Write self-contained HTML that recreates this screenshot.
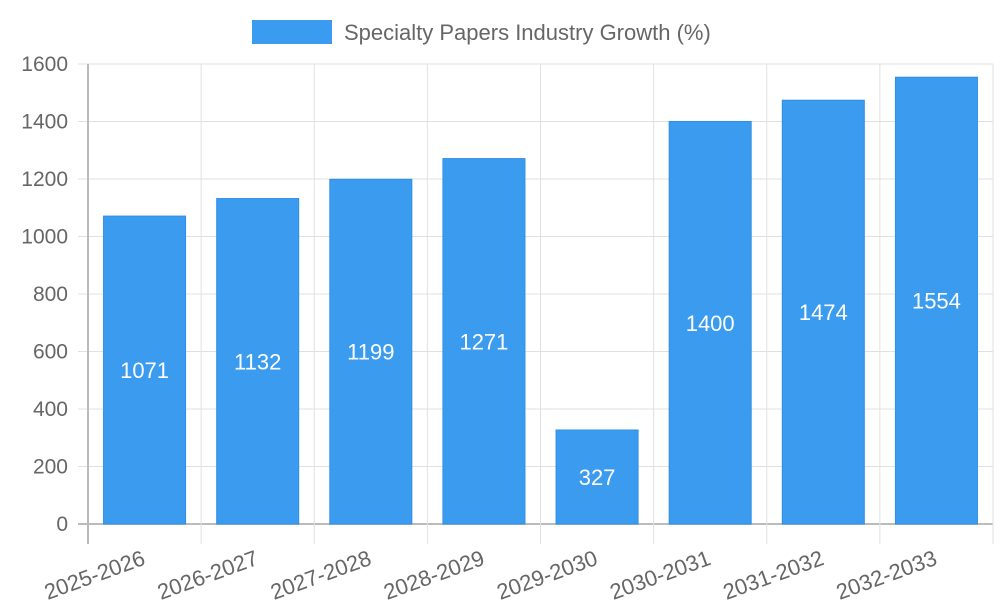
<!DOCTYPE html>
<html><head><meta charset="utf-8"><style>
body{margin:0;background:#fff;font-family:"Liberation Sans",sans-serif}
</style></head><body>
<svg id="chart" width="1000" height="600" xmlns="http://www.w3.org/2000/svg" font-family="Liberation Sans, sans-serif"></svg>
<script>
const categories=["2025-2026","2026-2027","2027-2028","2028-2029","2029-2030","2030-2031","2031-2032","2032-2033"];
const values=[1071,1132,1199,1271,327,1400,1474,1554];
const yTicks=[0,200,400,600,800,1000,1200,1400,1600];
const seriesName="Specialty Papers Industry Growth (%)";
const svg=document.getElementById('chart');
const NS="http://www.w3.org/2000/svg";
const L=88,R=993,T=64,B=524,yMax=1600;
const band=(R-L)/categories.length;
const y=v=>B-(v/yMax)*(B-T);
const xc=i=>L+band*(i+0.5);
function mk(tag,attrs,parent){const e=document.createElementNS(NS,tag);for(const k in attrs)e.setAttribute(k,attrs[k]);(parent||svg).appendChild(e);return e;}
// legend
const lg=mk('g',{});


mk('rect',{x:252,y:20,width:80,height:24,fill:'#3a9bef'},lg);
const lt=mk('text',{x:344,y:40,'font-size':22,fill:'#666'},lg);lt.textContent=seriesName;
// grid
const grid=mk('g',{});


yTicks.forEach(t=>{
  mk('line',{x1:L-10,x2:R,y1:y(t),y2:y(t),stroke:t===0?'#bbb':'#e0e0e0','stroke-width':t===0?2:1},grid);
  const tx=mk('text',{x:L-20,y:y(t)+7,'font-size':21,fill:'#666','text-anchor':'end'},grid);
  
  
  tx.textContent=t;
});
for(let i=0;i<=categories.length;i++){
  const gx=L+band*i;
  mk('line',{x1:gx,x2:gx,y1:T,y2:B+20,stroke:i===0?'#bbb':'#e0e0e0','stroke-width':i===0?2:1},grid);
}
// bars
categories.forEach((c,i)=>{
  const bw=band*0.725, v=values[i];
  const r=mk('rect',{x:xc(i)-bw/2,y:y(v),width:bw,height:B-y(v),fill:'#3a9bef',stroke:'#2f8fe5','stroke-width':1});
  
  
  const vt=mk('text',{x:xc(i),y:(y(v)+B)/2+8,'font-size':22,fill:'#fff','text-anchor':'middle'});
  
  
  vt.textContent=v;
  const xl=mk('text',{x:xc(i)+2,y:B+40,'font-size':22,fill:'#666','text-anchor':'end',transform:`rotate(-20 ${xc(i)+2} ${B+40})`});
  
  
  xl.textContent=c;
});
</script>
</body></html>
